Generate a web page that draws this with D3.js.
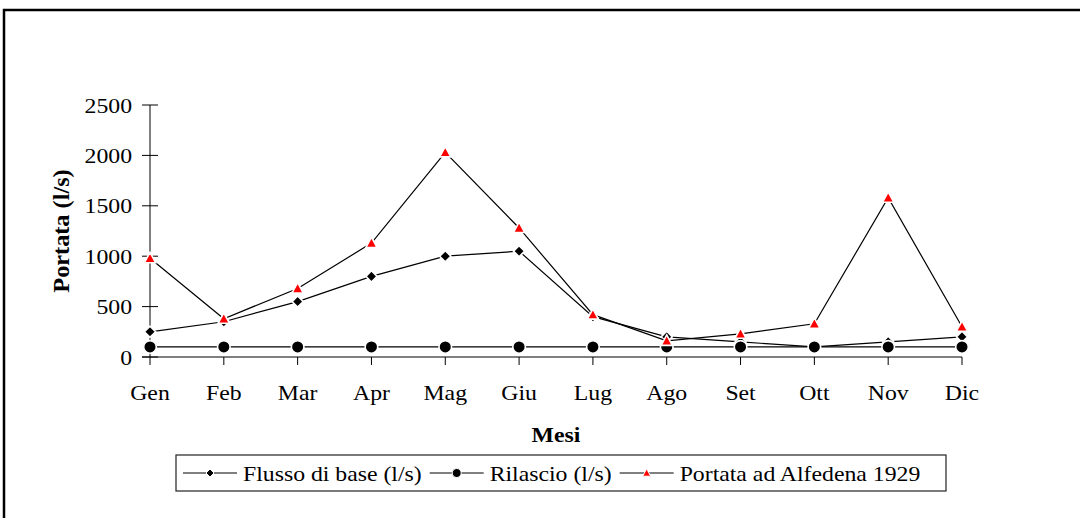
<!DOCTYPE html>
<html><head><meta charset="utf-8">
<script src="https://cdn.jsdelivr.net/npm/d3@7"></script>
<style>
html,body{margin:0;padding:0;background:#fff;}
svg{display:block;}
text{font-family:"Liberation Serif","Times New Roman",serif;fill:#000;}
</style></head>
<body>
<svg id="chart" width="1080" height="518"></svg>
<script>
const months = ["Gen","Feb","Mar","Apr","Mag","Giu","Lug","Ago","Set","Ott","Nov","Dic"];
const flussoBase = [250,350,550,800,1000,1050,400,200,150,100,150,200];
const rilascio = [100,100,100,100,100,100,100,100,100,100,100,100];
const portataAlfedena = [980,380,680,1130,2030,1280,420,160,230,330,1580,300];
const yTicks = [0,500,1000,1500,2000,2500];
const seriesNames = ["Flusso di base (l/s)","Rilascio (l/s)","Portata ad Alfedena 1929"];
const xTitle = "Mesi";
const yTitle = "Portata (l/s)";

const SX = 1.08; // horizontal stretch of the reference's text
const svg = d3.select("#chart");

// frame
svg.append("rect").attr("x",4).attr("y",10).attr("width",1200).attr("height",700)
  .attr("fill","none").attr("stroke","#000").attr("stroke-width",2.5);

const x = d3.scalePoint().domain(months).range([150,962]);
const y = d3.scaleLinear().domain([0,2500]).range([357,105]);

function stext(g, tx, ty, str, opts={}) {
  const t = g.append("text")
    .attr("transform", `translate(${tx},${ty}) scale(${SX},1)`)
    .attr("font-size", opts.size || 22)
    .attr("text-anchor", opts.anchor || "start")
    .attr("font-weight", opts.weight || "normal")
    .text(str);
  return t;
}

// y axis
const yAxis = svg.append("g");
yAxis.append("line").attr("x1",150).attr("x2",150).attr("y1",y(2500)).attr("y2",y(0)).attr("stroke","#000");
yTicks.forEach(v=>{
  yAxis.append("line").attr("x1",142).attr("x2",158).attr("y1",y(v)).attr("y2",y(v)).attr("stroke","#000");
  stext(yAxis, 132, y(v)+7.5, String(v), {anchor:"end"});
});
// x axis
const xAxis = svg.append("g");
xAxis.append("line").attr("x1",142).attr("x2",x("Dic")).attr("y1",y(0)).attr("y2",y(0)).attr("stroke","#000");
months.forEach(m=>{
  xAxis.append("line").attr("x1",x(m)).attr("x2",x(m)).attr("y1",y(0)).attr("y2",y(0)+8).attr("stroke","#000");
  stext(xAxis, x(m), 400, m, {anchor:"middle"});
});
// titles
stext(svg, 556, 442, xTitle, {anchor:"middle", weight:"bold"});
svg.append("text").attr("transform",`translate(69,231) rotate(-90) scale(${SX},1)`)
  .attr("font-size",22.5).attr("font-weight","bold").attr("text-anchor","middle").text(yTitle);

// marker shapes
const diamond = s => `M0,${-s}L${s},0L0,${s}L${-s},0Z`;
const tri = s => `M0,${-s*1.05}L${s},${s*0.8}L${-s},${s*0.8}Z`;

const line = d3.line().x((d,i)=>x(months[i])).y(d=>y(d));
const series = [
  {name:seriesNames[0], data:flussoBase, type:"diamond", fill:"#000"},
  {name:seriesNames[1], data:rilascio, type:"circle", fill:"#000"},
  {name:seriesNames[2], data:portataAlfedena, type:"tri", fill:"#ff0000"}
];
const plot = svg.append("g");
series.forEach(s=>{
  plot.append("path").attr("d",line(s.data)).attr("fill","none").attr("stroke","#000").attr("stroke-width",1.2);
  const g = plot.append("g");
  s.data.forEach((v,i)=>{
    const cx = x(months[i]), cy = y(v);
    if (s.type==="circle") {
      g.append("circle").attr("cx",cx).attr("cy",cy).attr("r",6.3).attr("fill",s.fill).attr("stroke","#fff").attr("stroke-width",1.6);
    } else if (s.type==="diamond") {
      g.append("path").attr("d",diamond(5.6)).attr("transform",`translate(${cx},${cy})`).attr("fill",s.fill).attr("stroke","#fff").attr("stroke-width",1.6);
    } else {
      g.append("path").attr("d",tri(5.6)).attr("transform",`translate(${cx},${cy})`).attr("fill",s.fill).attr("stroke","#fff").attr("stroke-width",1.6);
    }
  });
});

// legend
const leg = svg.append("g");
leg.append("rect").attr("x",176).attr("y",455).attr("width",770).attr("height",36)
  .attr("fill","#fff").attr("stroke","#222").attr("stroke-width",1.2);
let lx = 183;
series.forEach(s=>{
  leg.append("line").attr("x1",lx).attr("x2",lx+54).attr("y1",473).attr("y2",473).attr("stroke","#000").attr("stroke-width",1.1);
  const mx = lx+27;
  if (s.type==="circle") leg.append("circle").attr("cx",mx).attr("cy",473).attr("r",4.5).attr("fill",s.fill).attr("stroke","#fff").attr("stroke-width",1);
  else if (s.type==="diamond") leg.append("path").attr("d",diamond(4)).attr("transform",`translate(${mx},473)`).attr("fill",s.fill).attr("stroke","#fff").attr("stroke-width",1);
  else leg.append("path").attr("d",tri(4)).attr("transform",`translate(${mx},473)`).attr("fill",s.fill).attr("stroke","#fff").attr("stroke-width",1);
  const t = stext(leg, lx+60, 481, s.name, {});
  const w = t.node().getComputedTextLength()*SX;
  lx = lx + 60 + w + 8;
});
</script>
</body></html>
